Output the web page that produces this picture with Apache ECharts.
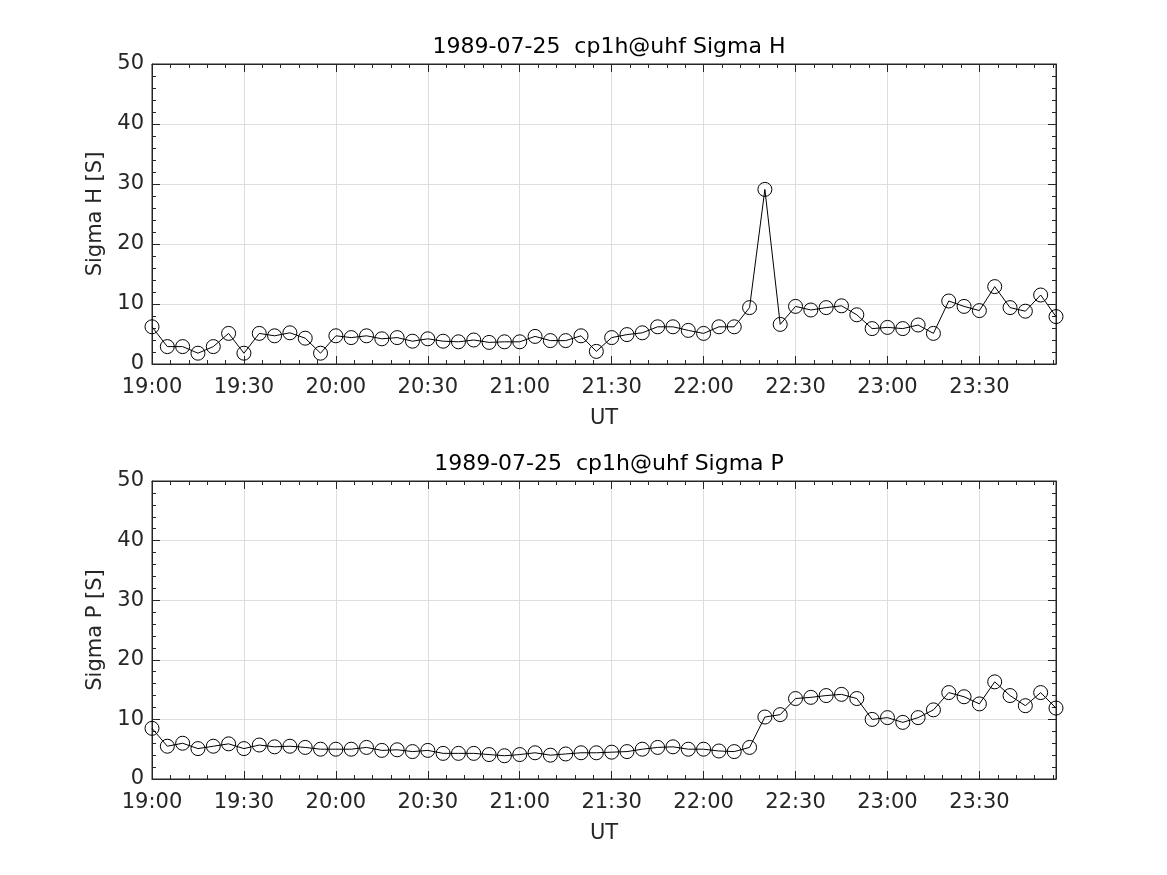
<!DOCTYPE html>
<html>
<head>
<meta charset="utf-8">
<script src="https://cdn.jsdelivr.net/npm/echarts@6/dist/echarts.min.js"></script>
<style>html,body{margin:0;padding:0;background:#fff}#c{width:1167px;height:875px}</style>
</head>
<body>
<div id="c"></div>
<script>
const times = ["19:00","19:05","19:10","19:15","19:20","19:25","19:30","19:35","19:40","19:45",
"19:50","19:55","20:00","20:05","20:10","20:15","20:20","20:25","20:30","20:35",
"20:40","20:45","20:50","20:55","21:00","21:05","21:10","21:15","21:20","21:25",
"21:30","21:35","21:40","21:45","21:50","21:55","22:00","22:05","22:10","22:15",
"22:20","22:25","22:30","22:35","22:40","22:45","22:50","22:55","23:00","23:05",
"23:10","23:15","23:20","23:25","23:30","23:35","23:40","23:45","23:50","23:55"];
const sigmaH = [6.2,2.9,2.9,1.8,2.9,5.1,1.8,5.1,4.7,5.2,
4.3,1.8,4.7,4.4,4.7,4.2,4.4,3.8,4.2,3.8,
3.7,4.0,3.6,3.7,3.7,4.6,3.9,3.9,4.7,2.1,
4.4,4.9,5.2,6.2,6.2,5.6,5.1,6.2,6.2,9.4,
29.1,6.6,9.6,9.0,9.4,9.7,8.2,5.9,6.1,5.9,
6.5,5.1,10.5,9.6,8.9,12.9,9.4,8.8,11.5,7.9];
const sigmaP = [8.5,5.5,6.0,5.1,5.5,5.9,5.1,5.7,5.4,5.5,
5.3,5.0,5.0,5.0,5.3,4.8,4.9,4.6,4.8,4.3,
4.3,4.3,4.1,3.9,4.1,4.4,4.0,4.2,4.4,4.4,
4.5,4.6,5.0,5.3,5.4,5.0,5.0,4.7,4.6,5.3,
10.4,10.8,13.5,13.7,14.0,14.2,13.5,10.0,10.3,9.5,
10.3,11.6,14.5,13.8,12.6,16.3,14.0,12.3,14.5,11.9];
const xTickLabels = ["19:00","19:30","20:00","20:30","21:00","21:30","22:00","22:30","23:00","23:30"];
const titles = ["1989-07-25  cp1h@uhf Sigma H","1989-07-25  cp1h@uhf Sigma P"];
const yNames = ["Sigma H [S]","Sigma P [S]"];
const xName = "UT";

const toMin = s => { const [h,m] = s.split(':').map(Number); return (h-19)*60 + m; };
const xMin = toMin(times[0]), xMax = toMin(times[times.length-1]);
const FONT = 'DejaVu Sans';
const axisCol = '#262626';

const grids = [
  {left:152, top:64, width:904, height:300, show:true, borderColor:axisCol, borderWidth:1},
  {left:152, top:481, width:904, height:298, show:true, borderColor:axisCol, borderWidth:1}
];
const tick = {show:true, inside:true, length:8, lineStyle:{color:axisCol}};
const minor = {show:true, splitNumber:5, length:4, lineStyle:{color:axisCol}};
const line = {show:true, onZero:false, lineStyle:{color:axisCol}};
const xAxes = [], yAxes = [];
for (let g=0; g<2; g++) {
  xAxes.push({
    type:'value', gridIndex:g, min:xMin, max:xMax, interval:30, position:'bottom',
    name:xName, nameLocation:'middle', nameGap:44,
    nameTextStyle:{fontFamily:FONT, fontSize:21, color:axisCol},
    axisLine:line, axisTick:tick, minorTick:minor,
    axisLabel:{fontFamily:FONT, fontSize:21, color:axisCol, margin:13, showMaxLabel:false,
      formatter: v => xTickLabels[Math.round(v/30)] || ''},
    splitLine:{show:true, lineStyle:{color:'#dedede'}}
  });
  yAxes.push({
    type:'value', gridIndex:g, min:0, max:50, interval:10, position:'left',
    name:yNames[g], nameLocation:'middle', nameGap:40,
    nameTextStyle:{fontFamily:FONT, fontSize:21, color:axisCol},
    axisLine:line, axisTick:tick, minorTick:minor,
    axisLabel:{fontFamily:FONT, fontSize:21, color:axisCol, margin:8},
    splitLine:{show:true, lineStyle:{color:'#dedede'}}
  });
}
for (let g=0; g<2; g++) {
  xAxes.push({
    type:'value', gridIndex:g, min:xMin, max:xMax, interval:30, position:'top',
    axisLine:line, axisTick:tick, minorTick:minor,
    axisLabel:{show:false}, splitLine:{show:false}
  });
  yAxes.push({
    type:'value', gridIndex:g, min:0, max:50, interval:10, position:'right',
    axisLine:line, axisTick:tick, minorTick:minor,
    axisLabel:{show:false}, splitLine:{show:false}
  });
}
const mk = (vals, g) => ({
  type:'line', xAxisIndex:g, yAxisIndex:g,
  data: times.map((t,i)=>[toMin(t), vals[i]]),
  symbol:'circle', symbolSize:14, showAllSymbol:true,
  lineStyle:{color:'#000', width:1},
  itemStyle:{color:'rgba(0,0,0,0)', borderColor:'#000', borderWidth:1},
  emphasis:{disabled:true}, z:5
});
const chart = echarts.init(document.getElementById('c'));
chart.setOption({
  animation:false,
  backgroundColor:'#fff',
  title: [
    {text:titles[0], left:604, top:31, textAlign:'center', textStyle:{fontFamily:FONT, fontSize:22, fontWeight:'normal', color:'#000'}},
    {text:titles[1], left:604, top:448, textAlign:'center', textStyle:{fontFamily:FONT, fontSize:22, fontWeight:'normal', color:'#000'}}
  ],
  grid: grids, xAxis: xAxes, yAxis: yAxes,
  series: [mk(sigmaH,0), mk(sigmaP,1)]
});
</script>
</body>
</html>
